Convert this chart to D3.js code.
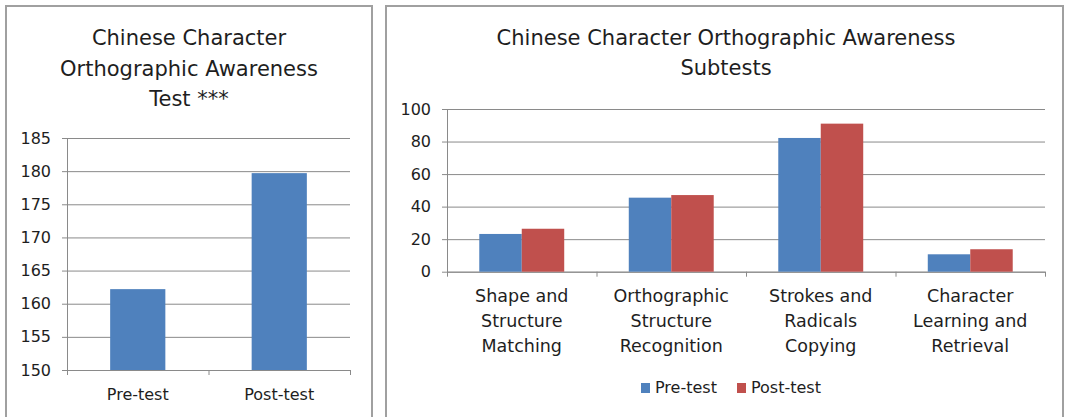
<!DOCTYPE html>
<meta charset="utf-8">

<!-- Load d3.js -->
<script src="https://d3js.org/d3.v7.min.js"></script>

<style>
  body { margin: 0; background: #fff; }
  text { font-family: "DejaVu Sans", sans-serif; fill: #1e1e1e; }
</style>

<!-- Create a div where the graph will take place -->
<div id="my_dataviz"></div>

<script>

// ---- data ----
var testLabels = ["Pre-test", "Post-test"];
var testScores = [162.2, 179.7];
var testTicks = [150, 155, 160, 165, 170, 175, 180, 185];

var subtestLabels = [
  ["Shape and", "Structure", "Matching"],
  ["Orthographic", "Structure", "Recognition"],
  ["Strokes and", "Radicals", "Copying"],
  ["Character", "Learning and", "Retrieval"]
];
var preScores = [23.2, 45.5, 82.2, 10.7];
var postScores = [26.4, 47.1, 91.0, 13.8];
var subtestTicks = [0, 20, 40, 60, 80, 100];

var seriesNames = ["Pre-test", "Post-test"];
var seriesColors = ["#4f81bd", "#c0504d"];

var gridColor = "#8a8a8a";

// append the svg object to the body of the page
var svg = d3.select("#my_dataviz")
  .append("svg")
    .attr("width", 1066)
    .attr("height", 417);

// panel borders (open at the bottom)
function panel(x0, x1) {
  svg.append("path")
    .attr("d", "M" + x0 + ",417V6H" + x1 + "V417")
    .attr("fill", "none")
    .attr("stroke", "#a0a0a0")
    .attr("stroke-width", 2);
}
panel(6, 372);
panel(386, 1063);

// draws gridlines, y axis and the category tick marks
function frame(g, y, ticks, x0, x1, nCats) {
  // gridlines
  g.append("g")
    .attr("transform", "translate(" + x0 + ",0)")
    .call(d3.axisLeft(y).tickValues(ticks).tickSize(-(x1 - x0)).tickFormat(""))
    .call(function(a) { a.select(".domain").remove(); })
    .selectAll("line").attr("stroke", gridColor);

  // y axis with labels
  var ya = g.append("g")
    .attr("transform", "translate(" + x0 + ",0)")
    .call(d3.axisLeft(y).tickValues(ticks).tickSize(5).tickPadding(11).tickSizeOuter(0));
  ya.select(".domain").attr("stroke", gridColor);
  ya.selectAll("line").attr("stroke", gridColor);
  ya.selectAll("text").style("font-size", "16px").attr("fill", "#1e1e1e");

  // x axis: tick marks on category boundaries
  var b = d3.scaleLinear().domain([0, nCats]).range([x0, x1]);
  var xa = g.append("g")
    .attr("transform", "translate(0," + y(ticks[0]) + ")")
    .call(d3.axisBottom(b).ticks(nCats).tickSize(5).tickSizeOuter(0).tickFormat(""));
  xa.select(".domain").attr("stroke", gridColor);
  xa.selectAll("line").attr("stroke", gridColor);
}

// ================= left chart =================
var left = svg.append("g");

var xL = d3.scaleBand().domain(testLabels).range([67, 350]);
var yL = d3.scaleLinear().domain([150, 185]).range([370, 138]);

frame(left, yL, testTicks, 67, 350, testLabels.length);

var barW = xL.bandwidth() * 0.39;
left.selectAll("rect.bar")
  .data(testScores)
  .enter()
  .append("rect")
    .attr("class", "bar")
    .attr("x", function(d, i) { return xL(testLabels[i]) + (xL.bandwidth() - barW) / 2; })
    .attr("y", function(d) { return yL(d); })
    .attr("width", barW)
    .attr("height", function(d) { return yL(150) - yL(d); })
    .attr("fill", seriesColors[0]);

left.selectAll("text.xlab")
  .data(testLabels)
  .enter()
  .append("text")
    .attr("class", "xlab")
    .attr("x", function(d) { return xL(d) + xL.bandwidth() / 2; })
    .attr("y", 400)
    .attr("text-anchor", "middle")
    .style("font-size", "16px")
    .text(function(d) { return d; });

left.selectAll("text.title")
  .data(["Chinese Character", "Orthographic Awareness", "Test ***"])
  .enter()
  .append("text")
    .attr("class", "title")
    .attr("x", 189)
    .attr("y", function(d, i) { return 45 + i * 30.5; })
    .attr("text-anchor", "middle")
    .style("font-size", "21px")
    .text(function(d) { return d; });

// ================= right chart =================
var right = svg.append("g");

var catKeys = subtestLabels.map(function(d) { return d.join(" "); });
var xR = d3.scaleBand().domain(catKeys).range([447, 1045]);
var xS = d3.scaleBand().domain(seriesNames).range([0, xR.bandwidth()]).paddingOuter(0.76);
var yR = d3.scaleLinear().domain([0, 100]).range([271.7, 109]);

frame(right, yR, subtestTicks, 447, 1045, catKeys.length);

var groups = catKeys.map(function(k, i) {
  return [
    { cat: k, s: 0, v: preScores[i] },
    { cat: k, s: 1, v: postScores[i] }
  ];
});

right.selectAll("g.grp")
  .data(groups)
  .enter()
  .append("g")
    .attr("class", "grp")
  .selectAll("rect")
  .data(function(d) { return d; })
  .enter()
  .append("rect")
    .attr("x", function(d) { return xR(d.cat) + xS(seriesNames[d.s]); })
    .attr("y", function(d) { return yR(d.v); })
    .attr("width", xS.bandwidth())
    .attr("height", function(d) { return yR(0) - yR(d.v); })
    .attr("fill", function(d) { return seriesColors[d.s]; });

var labs = right.selectAll("text.xlab")
  .data(subtestLabels)
  .enter()
  .append("text")
    .attr("class", "xlab")
    .attr("text-anchor", "middle")
    .style("font-size", "17.5px");
labs.selectAll("tspan")
  .data(function(d, i) { return d.map(function(t) { return { t: t, c: catKeys[i] }; }); })
  .enter()
  .append("tspan")
    .attr("x", function(d) { return xR(d.c) + xR.bandwidth() / 2; })
    .attr("y", function(d, j) { return 302 + j * 25; })
    .text(function(d) { return d.t; });

right.selectAll("text.title")
  .data(["Chinese Character Orthographic Awareness", "Subtests"])
  .enter()
  .append("text")
    .attr("class", "title")
    .attr("x", 726)
    .attr("y", function(d, i) { return 45 + i * 30; })
    .attr("text-anchor", "middle")
    .style("font-size", "21px")
    .text(function(d) { return d; });

// legend
var legX = [641, 737];
var leg = right.selectAll("g.leg")
  .data(seriesNames)
  .enter()
  .append("g")
    .attr("class", "leg")
    .attr("transform", function(d, i) { return "translate(" + legX[i] + ",0)"; });
leg.append("rect")
  .attr("x", 0).attr("y", 383)
  .attr("width", 9).attr("height", 10)
  .attr("fill", function(d, i) { return seriesColors[i]; });
leg.append("text")
  .attr("x", 14).attr("y", 393)
  .style("font-size", "16px")
  .text(function(d) { return d; });

</script>
